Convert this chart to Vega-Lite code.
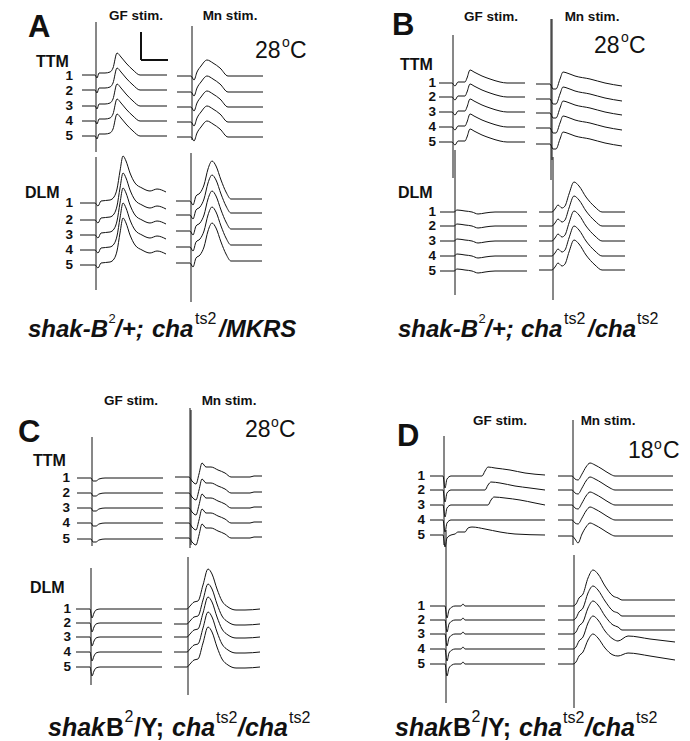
{
"$schema":"https://vega.github.io/schema/vega-lite/v6.json",
"width":690,"height":741,
"autosize":{"type":"fit","contains":"padding"},
"padding":0,
"background":"white",
"config":{"view":{"stroke":null}},
"datasets":{
"traces":[
{"g":"AGT","x":82,"t1":75,"t2":90,"t3":106,"t4":121,"t5":136},
{"g":"AGT","x":95,"t1":75,"t2":90,"t3":106,"t4":121,"t5":136},
{"g":"AGT","x":97,"t1":78,"t2":93,"t3":109,"t4":124,"t5":139},
{"g":"AGT","x":99,"t1":73,"t2":88,"t3":104,"t4":119,"t5":134},
{"g":"AGT","x":105,"t1":73,"t2":88,"t3":104,"t4":119,"t5":134},
{"g":"AGT","x":110,"t1":72,"t2":87,"t3":103,"t4":118,"t5":133},
{"g":"AGT","x":113,"t1":68,"t2":83,"t3":99,"t4":114,"t5":129},
{"g":"AGT","x":117,"t1":53,"t2":68,"t3":84,"t4":99,"t5":114},
{"g":"AGT","x":121,"t1":57,"t2":72,"t3":88,"t4":103,"t5":118},
{"g":"AGT","x":126,"t1":63,"t2":78,"t3":94,"t4":109,"t5":124},
{"g":"AGT","x":133,"t1":70,"t2":85,"t3":101,"t4":116,"t5":131},
{"g":"AGT","x":140,"t1":75,"t2":90,"t3":106,"t4":121,"t5":136},
{"g":"AGT","x":167,"t1":75,"t2":90,"t3":106,"t4":121,"t5":136},
{"g":"AMT","x":177,"t1":76,"t2":92,"t3":107,"t4":122,"t5":137},
{"g":"AMT","x":191,"t1":76,"t2":92,"t3":107,"t4":122,"t5":137},
{"g":"AMT","x":194,"t1":80,"t2":96,"t3":111,"t4":126,"t5":141},
{"g":"AMT","x":197,"t1":72,"t2":88,"t3":103,"t4":118,"t5":133},
{"g":"AMT","x":201,"t1":66,"t2":82,"t3":97,"t4":112,"t5":127},
{"g":"AMT","x":207,"t1":60,"t2":76,"t3":91,"t4":106,"t5":121},
{"g":"AMT","x":213,"t1":63,"t2":79,"t3":94,"t4":109,"t5":124},
{"g":"AMT","x":220,"t1":68,"t2":84,"t3":99,"t4":114,"t5":129},
{"g":"AMT","x":228,"t1":76,"t2":92,"t3":107,"t4":122,"t5":137},
{"g":"AMT","x":263,"t1":76,"t2":92,"t3":107,"t4":122,"t5":137},
{"g":"AGD","x":80,"t1":203,"t2":220,"t3":235,"t4":250,"t5":265},
{"g":"AGD","x":95,"t1":203,"t2":220,"t3":235,"t4":250,"t5":265},
{"g":"AGD","x":98,"t1":206,"t2":223,"t3":238,"t4":253,"t5":268},
{"g":"AGD","x":101,"t1":201,"t2":218,"t3":233,"t4":248,"t5":263},
{"g":"AGD","x":110,"t1":200,"t2":217,"t3":232,"t4":247,"t5":262},
{"g":"AGD","x":114,"t1":197,"t2":214,"t3":229,"t4":244,"t5":259},
{"g":"AGD","x":117,"t1":189,"t2":206,"t3":221,"t4":236,"t5":251},
{"g":"AGD","x":120,"t1":171,"t2":188,"t3":203,"t4":218,"t5":233},
{"g":"AGD","x":123,"t1":156,"t2":173,"t3":188,"t4":203,"t5":218},
{"g":"AGD","x":126,"t1":161,"t2":178,"t3":193,"t4":208,"t5":223},
{"g":"AGD","x":130,"t1":173,"t2":190,"t3":205,"t4":220,"t5":235},
{"g":"AGD","x":135,"t1":183,"t2":200,"t3":215,"t4":230,"t5":245},
{"g":"AGD","x":142,"t1":188,"t2":205,"t3":220,"t4":235,"t5":250},
{"g":"AGD","x":150,"t1":191,"t2":208,"t3":223,"t4":238,"t5":253},
{"g":"AGD","x":157,"t1":189,"t2":206,"t3":221,"t4":236,"t5":251},
{"g":"AGD","x":166,"t1":192,"t2":209,"t3":224,"t4":239,"t5":254},
{"g":"AMD","x":176,"t1":201,"t2":215,"t3":231,"t4":247,"t5":263},
{"g":"AMD","x":190,"t1":201,"t2":215,"t3":231,"t4":247,"t5":263},
{"g":"AMD","x":193,"t1":205,"t2":219,"t3":235,"t4":251,"t5":267},
{"g":"AMD","x":196,"t1":196,"t2":210,"t3":226,"t4":242,"t5":258},
{"g":"AMD","x":200,"t1":193,"t2":207,"t3":223,"t4":239,"t5":255},
{"g":"AMD","x":204,"t1":185,"t2":199,"t3":215,"t4":231,"t5":247},
{"g":"AMD","x":208,"t1":169,"t2":183,"t3":199,"t4":215,"t5":231},
{"g":"AMD","x":212,"t1":161,"t2":175,"t3":191,"t4":207,"t5":223},
{"g":"AMD","x":216,"t1":166,"t2":180,"t3":196,"t4":212,"t5":228},
{"g":"AMD","x":221,"t1":180,"t2":194,"t3":210,"t4":226,"t5":242},
{"g":"AMD","x":226,"t1":192,"t2":206,"t3":222,"t4":238,"t5":254},
{"g":"AMD","x":231,"t1":199,"t2":213,"t3":229,"t4":245,"t5":261},
{"g":"AMD","x":262,"t1":199,"t2":213,"t3":229,"t4":245,"t5":261},
{"g":"BGT","x":439,"t1":83,"t2":97,"t3":112,"t4":127,"t5":142},
{"g":"BGT","x":452,"t1":83,"t2":97,"t3":112,"t4":127,"t5":142},
{"g":"BGT","x":455,"t1":86,"t2":100,"t3":115,"t4":130,"t5":145},
{"g":"BGT","x":458,"t1":82,"t2":96,"t3":111,"t4":126,"t5":141},
{"g":"BGT","x":465,"t1":82,"t2":96,"t3":111,"t4":126,"t5":141},
{"g":"BGT","x":467,"t1":78,"t2":92,"t3":107,"t4":122,"t5":137},
{"g":"BGT","x":470,"t1":70,"t2":84,"t3":99,"t4":114,"t5":129},
{"g":"BGT","x":474,"t1":72,"t2":86,"t3":101,"t4":116,"t5":131},
{"g":"BGT","x":482,"t1":76,"t2":90,"t3":105,"t4":120,"t5":135},
{"g":"BGT","x":490,"t1":79,"t2":93,"t3":108,"t4":123,"t5":138},
{"g":"BGT","x":500,"t1":82,"t2":96,"t3":111,"t4":126,"t5":141},
{"g":"BGT","x":507,"t1":83,"t2":97,"t3":112,"t4":127,"t5":142},
{"g":"BGT","x":525,"t1":83,"t2":97,"t3":112,"t4":127,"t5":142},
{"g":"BMT","x":536,"t1":84,"t2":99,"t3":113,"t4":128,"t5":144},
{"g":"BMT","x":550,"t1":84,"t2":99,"t3":113,"t4":128,"t5":144},
{"g":"BMT","x":553,"t1":89,"t2":104,"t3":118,"t4":133,"t5":149},
{"g":"BMT","x":556,"t1":89,"t2":104,"t3":118,"t4":133,"t5":149},
{"g":"BMT","x":560,"t1":79,"t2":94,"t3":108,"t4":123,"t5":139},
{"g":"BMT","x":563,"t1":72,"t2":87,"t3":101,"t4":116,"t5":132},
{"g":"BMT","x":567,"t1":73,"t2":88,"t3":102,"t4":117,"t5":133},
{"g":"BMT","x":575,"t1":76,"t2":91,"t3":105,"t4":120,"t5":136},
{"g":"BMT","x":590,"t1":79,"t2":94,"t3":108,"t4":123,"t5":139},
{"g":"BMT","x":605,"t1":83,"t2":98,"t3":112,"t4":127,"t5":143},
{"g":"BMT","x":622,"t1":86,"t2":101,"t3":115,"t4":130,"t5":146},
{"g":"BGD","x":440,"t1":212,"t2":226,"t3":241,"t4":256,"t5":271},
{"g":"BGD","x":454,"t1":212,"t2":226,"t3":241,"t4":256,"t5":271},
{"g":"BGD","x":457,"t1":210,"t2":224,"t3":239,"t4":254,"t5":269},
{"g":"BGD","x":465,"t1":211,"t2":225,"t3":240,"t4":255,"t5":270},
{"g":"BGD","x":472,"t1":212,"t2":226,"t3":241,"t4":256,"t5":271},
{"g":"BGD","x":478,"t1":214,"t2":228,"t3":243,"t4":258,"t5":273},
{"g":"BGD","x":485,"t1":213,"t2":227,"t3":242,"t4":257,"t5":272},
{"g":"BGD","x":495,"t1":212,"t2":226,"t3":241,"t4":256,"t5":271},
{"g":"BGD","x":527,"t1":212,"t2":226,"t3":241,"t4":256,"t5":271},
{"g":"BMD","x":539,"t1":212,"t2":226,"t3":241,"t4":256,"t5":270},
{"g":"BMD","x":552,"t1":212,"t2":226,"t3":241,"t4":256,"t5":270},
{"g":"BMD","x":555,"t1":209,"t2":223,"t3":238,"t4":253,"t5":267},
{"g":"BMD","x":558,"t1":205,"t2":219,"t3":234,"t4":249,"t5":263},
{"g":"BMD","x":562,"t1":208,"t2":222,"t3":237,"t4":252,"t5":266},
{"g":"BMD","x":565,"t1":206,"t2":220,"t3":235,"t4":250,"t5":264},
{"g":"BMD","x":569,"t1":194,"t2":208,"t3":223,"t4":238,"t5":252},
{"g":"BMD","x":574,"t1":182,"t2":196,"t3":211,"t4":226,"t5":240},
{"g":"BMD","x":579,"t1":186,"t2":200,"t3":215,"t4":230,"t5":244},
{"g":"BMD","x":586,"t1":197,"t2":211,"t3":226,"t4":241,"t5":255},
{"g":"BMD","x":595,"t1":207,"t2":221,"t3":236,"t4":251,"t5":265},
{"g":"BMD","x":602,"t1":212,"t2":226,"t3":241,"t4":256,"t5":270},
{"g":"BMD","x":625,"t1":212,"t2":226,"t3":241,"t4":256,"t5":270},
{"g":"CGT","x":77,"t1":478,"t2":493,"t3":508,"t4":523,"t5":539},
{"g":"CGT","x":91,"t1":478,"t2":493,"t3":508,"t4":523,"t5":539},
{"g":"CGT","x":93,"t1":481,"t2":496,"t3":511,"t4":526,"t5":542},
{"g":"CGT","x":96,"t1":481,"t2":496,"t3":511,"t4":526,"t5":542},
{"g":"CGT","x":99,"t1":479,"t2":494,"t3":509,"t4":524,"t5":540},
{"g":"CGT","x":105,"t1":478,"t2":493,"t3":508,"t4":523,"t5":539},
{"g":"CGT","x":163,"t1":478,"t2":493,"t3":508,"t4":523,"t5":539},
{"g":"CMT","x":175,"t1":477,"t2":493,"t3":508,"t4":523,"t5":538},
{"g":"CMT","x":189,"t1":477,"t2":493,"t3":508,"t4":523,"t5":538},
{"g":"CMT","x":192,"t1":481,"t2":497,"t3":512,"t4":527,"t5":542},
{"g":"CMT","x":196,"t1":484,"t2":500,"t3":515,"t4":530,"t5":545},
{"g":"CMT","x":199,"t1":474,"t2":490,"t3":505,"t4":520,"t5":535},
{"g":"CMT","x":202,"t1":463,"t2":479,"t3":494,"t4":509,"t5":524},
{"g":"CMT","x":206,"t1":467,"t2":483,"t3":498,"t4":513,"t5":528},
{"g":"CMT","x":211,"t1":467,"t2":483,"t3":498,"t4":513,"t5":528},
{"g":"CMT","x":218,"t1":470,"t2":486,"t3":501,"t4":516,"t5":531},
{"g":"CMT","x":225,"t1":473,"t2":489,"t3":504,"t4":519,"t5":534},
{"g":"CMT","x":231,"t1":477,"t2":493,"t3":508,"t4":523,"t5":538},
{"g":"CMT","x":250,"t1":477,"t2":493,"t3":508,"t4":523,"t5":538},
{"g":"CMT","x":254,"t1":476,"t2":492,"t3":507,"t4":522,"t5":537},
{"g":"CMT","x":262,"t1":476,"t2":492,"t3":507,"t4":522,"t5":537},
{"g":"CGD","x":76,"t1":609,"t2":623,"t3":637,"t4":652,"t5":667},
{"g":"CGD","x":90,"t1":609,"t2":623,"t3":637,"t4":652,"t5":667},
{"g":"CGD","x":92,"t1":618,"t2":632,"t3":646,"t4":661,"t5":676},
{"g":"CGD","x":94,"t1":613,"t2":627,"t3":641,"t4":656,"t5":671},
{"g":"CGD","x":96,"t1":610,"t2":624,"t3":638,"t4":653,"t5":668},
{"g":"CGD","x":100,"t1":609,"t2":623,"t3":637,"t4":652,"t5":667},
{"g":"CGD","x":162,"t1":609,"t2":623,"t3":637,"t4":652,"t5":667},
{"g":"CMD","x":174,"t1":609,"t2":624,"t3":637,"t4":652,"t5":667},
{"g":"CMD","x":187,"t1":609,"t2":624,"t3":637,"t4":652,"t5":667},
{"g":"CMD","x":190,"t1":606,"t2":621,"t3":634,"t4":649,"t5":664},
{"g":"CMD","x":194,"t1":602,"t2":617,"t3":630,"t4":645,"t5":660},
{"g":"CMD","x":198,"t1":601,"t2":616,"t3":629,"t4":644,"t5":659},
{"g":"CMD","x":203,"t1":585,"t2":600,"t3":613,"t4":628,"t5":643},
{"g":"CMD","x":208,"t1":569,"t2":584,"t3":597,"t4":612,"t5":627},
{"g":"CMD","x":212,"t1":574,"t2":589,"t3":602,"t4":617,"t5":632},
{"g":"CMD","x":217,"t1":589,"t2":604,"t3":617,"t4":632,"t5":647},
{"g":"CMD","x":222,"t1":601,"t2":616,"t3":629,"t4":644,"t5":659},
{"g":"CMD","x":228,"t1":607,"t2":622,"t3":635,"t4":650,"t5":665},
{"g":"CMD","x":236,"t1":610,"t2":625,"t3":638,"t4":653,"t5":668},
{"g":"CMD","x":245,"t1":610,"t2":625,"t3":638,"t4":653,"t5":668},
{"g":"CMD","x":260,"t1":609,"t2":624,"t3":637,"t4":652,"t5":667},
{"g":"DGT","x":430,"t1":476,"t2":490,"t3":505,"t4":520,"t5":535},
{"g":"DGT","x":443,"t1":476,"t2":490,"t3":505,"t4":520,"t5":535},
{"g":"DGT","x":445,"t1":488,"t2":502,"t3":517,"t4":532,"t5":547},
{"g":"DGT","x":447,"t1":479,"t2":493,"t3":508,"t4":523,"t5":538},
{"g":"DGT","x":451,"t1":476,"t2":490,"t3":505,"t4":520,"t5":535},
{"g":"DGT","x":455,"t5":534},
{"g":"DGT","x":458,"t5":532},
{"g":"DGT","x":465,"t5":532},
{"g":"DGT","x":468,"t5":528},
{"g":"DGT","x":472,"t5":527},
{"g":"DGT","x":482,"t1":476,"t2":490,"t3":505},
{"g":"DGT","x":485,"t1":471,"t2":490,"t5":529},
{"g":"DGT","x":488,"t1":467,"t2":485,"t3":505},
{"g":"DGT","x":491,"t2":482,"t3":500},
{"g":"DGT","x":494,"t3":497},
{"g":"DGT","x":495,"t1":468},
{"g":"DGT","x":500,"t2":483,"t5":532},
{"g":"DGT","x":505,"t3":498},
{"g":"DGT","x":510,"t1":470},
{"g":"DGT","x":515,"t2":486,"t5":534},
{"g":"DGT","x":520,"t3":500},
{"g":"DGT","x":525,"t1":473},
{"g":"DGT","x":530,"t2":488},
{"g":"DGT","x":535,"t3":503},
{"g":"DGT","x":545,"t1":475,"t2":490,"t3":505,"t4":520,"t5":535},
{"g":"DMT","x":558,"t1":476,"t2":490,"t3":505,"t4":520,"t5":536},
{"g":"DMT","x":572,"t1":476,"t2":490,"t3":505,"t4":520,"t5":536},
{"g":"DMT","x":575,"t1":479,"t2":493,"t3":508,"t4":523,"t5":539},
{"g":"DMT","x":578,"t1":480,"t2":494,"t3":509,"t4":524,"t5":543},
{"g":"DMT","x":582,"t1":474,"t2":488,"t3":503,"t4":518,"t5":534},
{"g":"DMT","x":586,"t1":467,"t2":481,"t3":496,"t4":511,"t5":527},
{"g":"DMT","x":590,"t1":463,"t2":477,"t3":492,"t4":507,"t5":523},
{"g":"DMT","x":595,"t1":465,"t2":479,"t3":494,"t4":509,"t5":525},
{"g":"DMT","x":602,"t1":469,"t2":483,"t3":498,"t4":513,"t5":529},
{"g":"DMT","x":610,"t1":474,"t2":488,"t3":503,"t4":518,"t5":534},
{"g":"DMT","x":615,"t1":476,"t2":490,"t3":505,"t4":520,"t5":536},
{"g":"DMT","x":673,"t1":476,"t2":490,"t3":505,"t4":520,"t5":536},
{"g":"DGD","x":430,"t1":606,"t2":620,"t3":634,"t4":649,"t5":664},
{"g":"DGD","x":445,"t1":606,"t2":620,"t3":634,"t4":649,"t5":664},
{"g":"DGD","x":447,"t1":618,"t2":632,"t3":646,"t4":661,"t5":676},
{"g":"DGD","x":449,"t1":610,"t2":624,"t3":638,"t4":653,"t5":668},
{"g":"DGD","x":452,"t1":607,"t2":621,"t3":635,"t4":650,"t5":665},
{"g":"DGD","x":455,"t1":606,"t2":620,"t3":634,"t4":649,"t5":664},
{"g":"DGD","x":461,"t1":606,"t2":620,"t3":634,"t4":649,"t5":664},
{"g":"DGD","x":463,"t1":604,"t2":618,"t3":632,"t4":647,"t5":662},
{"g":"DGD","x":465,"t1":606,"t2":620,"t3":634,"t4":649,"t5":664},
{"g":"DGD","x":545,"t1":606,"t2":620,"t3":634,"t4":649,"t5":664},
{"g":"DMD","x":558,"t1":606,"t2":620,"t3":634,"t4":649,"t5":664},
{"g":"DMD","x":573,"t1":606,"t2":620,"t3":634,"t4":649,"t5":664},
{"g":"DMD","x":576,"t1":604,"t2":618,"t3":632,"t4":647,"t5":662},
{"g":"DMD","x":579,"t1":598,"t2":612,"t3":626,"t4":641,"t5":656},
{"g":"DMD","x":583,"t1":594,"t2":608,"t3":622,"t4":637,"t5":652},
{"g":"DMD","x":588,"t1":578,"t2":593,"t3":608,"t4":623,"t5":640},
{"g":"DMD","x":593,"t1":570,"t2":586,"t3":601,"t4":616,"t5":634},
{"g":"DMD","x":598,"t1":574,"t2":590,"t3":605,"t4":620,"t5":638},
{"g":"DMD","x":605,"t1":586,"t2":601,"t3":616,"t4":631,"t5":648},
{"g":"DMD","x":613,"t1":596,"t2":611,"t3":625,"t4":639,"t5":655},
{"g":"DMD","x":618,"t1":598,"t2":613,"t3":627,"t4":641,"t5":656},
{"g":"DMD","x":622,"t1":600,"t2":616,"t3":630},
{"g":"DMD","x":628,"t4":636,"t5":653},
{"g":"DMD","x":650,"t4":639,"t5":656},
{"g":"DMD","x":675,"t1":600,"t2":616,"t3":630,"t4":642,"t5":660}
],
"stims":[
{"x":96,"y":22,"y2":152},{"x":192,"y":26,"y2":140},{"x":96,"y":157,"y2":290},{"x":191,"y":153,"y2":302},
{"x":453,"y":35,"y2":178},{"x":551,"y":19,"y2":180},{"x":552,"y":19,"y2":160},{"x":455,"y":150,"y2":295},{"x":553,"y":157,"y2":300},
{"x":92,"y":437,"y2":546},{"x":190,"y":408,"y2":548},{"x":191,"y":410,"y2":545},{"x":91,"y":568,"y2":685},{"x":188,"y":557,"y2":695},
{"x":444,"y":436,"y2":545},{"x":446,"y":530,"y2":703},{"x":573,"y":420,"y2":545},{"x":574,"y":555,"y2":708}
],
"bar":[
{"x":141,"x2":141,"y":32,"y2":60},{"x":141,"x2":168,"y":60,"y2":60}
],
"labels":[
{"k":"panel","t":"A","x":28,"y":37},{"k":"panel","t":"B","x":392,"y":35},{"k":"panel","t":"C","x":18,"y":442},{"k":"panel","t":"D","x":397,"y":446},
{"k":"stim","t":"GF stim.","x":136,"y":20},{"k":"stim","t":"Mn stim.","x":230,"y":20},
{"k":"stim","t":"GF stim.","x":491,"y":21},{"k":"stim","t":"Mn stim.","x":592,"y":21},
{"k":"stim","t":"GF stim.","x":131,"y":405},{"k":"stim","t":"Mn stim.","x":229,"y":405},
{"k":"stim","t":"GF stim.","x":500,"y":425},{"k":"stim","t":"Mn stim.","x":608,"y":425},
{"k":"temp","t":"28","x":255,"y":58},{"k":"temp","t":"C","x":290,"y":58},
{"k":"temp","t":"28","x":594,"y":53},{"k":"temp","t":"C","x":629,"y":53},
{"k":"temp","t":"28","x":245,"y":437},{"k":"temp","t":"C","x":279,"y":437},
{"k":"temp","t":"18","x":628,"y":458},{"k":"temp","t":"C","x":663,"y":458},
{"k":"deg","t":"o","x":282,"y":47},{"k":"deg","t":"o","x":621,"y":42},{"k":"deg","t":"o","x":271,"y":427},{"k":"deg","t":"o","x":654,"y":449},
{"k":"muscle","t":"TTM","x":36,"y":67},{"k":"muscle","t":"DLM","x":25,"y":198},
{"k":"muscle","t":"TTM","x":400,"y":70},{"k":"muscle","t":"DLM","x":398,"y":198},
{"k":"muscle","t":"TTM","x":33,"y":466},{"k":"muscle","t":"DLM","x":30,"y":593},
{"k":"num","t":"1","x":73,"y":76},{"k":"num","t":"2","x":73,"y":91},{"k":"num","t":"3","x":73,"y":106},{"k":"num","t":"4","x":73,"y":121},{"k":"num","t":"5","x":73,"y":136},
{"k":"num","t":"1","x":73,"y":203},{"k":"num","t":"2","x":73,"y":220},{"k":"num","t":"3","x":73,"y":235},{"k":"num","t":"4","x":73,"y":250},{"k":"num","t":"5","x":73,"y":265},
{"k":"num","t":"1","x":436,"y":83},{"k":"num","t":"2","x":436,"y":97},{"k":"num","t":"3","x":436,"y":112},{"k":"num","t":"4","x":436,"y":127},{"k":"num","t":"5","x":436,"y":142},
{"k":"num","t":"1","x":436,"y":212},{"k":"num","t":"2","x":436,"y":226},{"k":"num","t":"3","x":436,"y":241},{"k":"num","t":"4","x":436,"y":256},{"k":"num","t":"5","x":436,"y":271},
{"k":"num","t":"1","x":70,"y":478},{"k":"num","t":"2","x":70,"y":493},{"k":"num","t":"3","x":70,"y":508},{"k":"num","t":"4","x":70,"y":523},{"k":"num","t":"5","x":70,"y":539},
{"k":"num","t":"1","x":71,"y":609},{"k":"num","t":"2","x":71,"y":623},{"k":"num","t":"3","x":71,"y":637},{"k":"num","t":"4","x":71,"y":652},{"k":"num","t":"5","x":71,"y":667},
{"k":"num","t":"1","x":425,"y":476},{"k":"num","t":"2","x":425,"y":490},{"k":"num","t":"3","x":425,"y":505},{"k":"num","t":"4","x":425,"y":520},{"k":"num","t":"5","x":425,"y":535},
{"k":"num","t":"1","x":425,"y":606},{"k":"num","t":"2","x":425,"y":620},{"k":"num","t":"3","x":425,"y":634},{"k":"num","t":"4","x":425,"y":649},{"k":"num","t":"5","x":425,"y":664},
{"k":"capAB","t":"shak-B","x":28,"y":337},{"k":"capAB","t":"/+;","x":115,"y":337},{"k":"capAB","t":"cha","x":152,"y":337},{"k":"capAB","t":"/MKRS","x":219,"y":337},
{"k":"capAB","t":"shak-B","x":398,"y":337},{"k":"capAB","t":"/+;","x":485,"y":337},{"k":"capAB","t":"cha","x":521,"y":337},{"k":"capAB","t":"/cha","x":588,"y":337},
{"k":"supS","t":"2","x":108.5,"y":323},{"k":"sup","t":"ts2","x":195,"y":324},
{"k":"supS","t":"2","x":478.5,"y":323},{"k":"sup","t":"ts2","x":564,"y":324},{"k":"sup","t":"ts2","x":637,"y":324},
{"k":"capCD","t":"shak","x":48,"y":736},{"k":"capCDu","t":"B","x":106,"y":736},{"k":"capCDu","t":"/Y;","x":134,"y":736},{"k":"capCD","t":"cha","x":172,"y":736},{"k":"capCD","t":"/cha","x":238,"y":736},
{"k":"sup","t":"2","x":124.5,"y":722},{"k":"sup","t":"ts2","x":216,"y":723},{"k":"sup","t":"ts2","x":289,"y":723},
{"k":"capCD","t":"shak","x":395,"y":736},{"k":"capCDu","t":"B","x":453,"y":736},{"k":"capCDu","t":"/Y;","x":481,"y":736},{"k":"capCD","t":"cha","x":519,"y":736},{"k":"capCD","t":"/cha","x":585,"y":736},
{"k":"sup","t":"2","x":471.5,"y":722},{"k":"sup","t":"ts2","x":563,"y":723},{"k":"sup","t":"ts2","x":636,"y":723}
]
},
"layer":[
{"data":{"name":"traces"},
 "transform":[{"fold":["t1","t2","t3","t4","t5"],"as":["trace","v"]},{"filter":"isValid(datum.v)"}],
 "mark":{"type":"line","interpolate":"monotone","color":"#111","strokeWidth":1},
 "encoding":{
  "x":{"field":"x","type":"quantitative","scale":{"domain":[0,690],"nice":false,"zero":false},"axis":null},
  "y":{"field":"v","type":"quantitative","scale":{"domain":[0,741],"reverse":true,"nice":false,"zero":false},"axis":null},
  "detail":[{"field":"g"},{"field":"trace"}]}},
{"data":{"name":"stims"},
 "mark":{"type":"rule","color":"#111","strokeWidth":1},
 "encoding":{
  "x":{"field":"x","type":"quantitative","scale":{"domain":[0,690],"nice":false,"zero":false},"axis":null},
  "y":{"field":"y","type":"quantitative","scale":{"domain":[0,741],"reverse":true,"nice":false,"zero":false},"axis":null},
  "y2":{"field":"y2"}}},
{"data":{"name":"bar"},
 "mark":{"type":"rule","color":"#111","strokeWidth":2},
 "encoding":{
  "x":{"field":"x","type":"quantitative","axis":null},"x2":{"field":"x2"},
  "y":{"field":"y","type":"quantitative","axis":null},"y2":{"field":"y2"}}},
{"data":{"name":"labels"},"transform":[{"filter":"datum.k=='panel'"}],
 "mark":{"type":"text","font":"Liberation Sans","fontSize":31,"fontWeight":"bold","align":"left","baseline":"alphabetic","color":"#111"},
 "encoding":{"x":{"field":"x","type":"quantitative","axis":null},"y":{"field":"y","type":"quantitative","axis":null},"text":{"field":"t"}}},
{"data":{"name":"labels"},"transform":[{"filter":"datum.k=='stim'"}],
 "mark":{"type":"text","font":"Liberation Sans","fontSize":13.5,"fontWeight":"bold","align":"center","baseline":"alphabetic","color":"#111"},
 "encoding":{"x":{"field":"x","type":"quantitative","axis":null},"y":{"field":"y","type":"quantitative","axis":null},"text":{"field":"t"}}},
{"data":{"name":"labels"},"transform":[{"filter":"datum.k=='temp'"}],
 "mark":{"type":"text","font":"Liberation Sans","fontSize":23,"align":"left","baseline":"alphabetic","color":"#111"},
 "encoding":{"x":{"field":"x","type":"quantitative","axis":null},"y":{"field":"y","type":"quantitative","axis":null},"text":{"field":"t"}}},
{"data":{"name":"labels"},"transform":[{"filter":"datum.k=='deg'"}],
 "mark":{"type":"text","font":"Liberation Sans","fontSize":14,"align":"left","baseline":"alphabetic","color":"#111"},
 "encoding":{"x":{"field":"x","type":"quantitative","axis":null},"y":{"field":"y","type":"quantitative","axis":null},"text":{"field":"t"}}},
{"data":{"name":"labels"},"transform":[{"filter":"datum.k=='muscle'"}],
 "mark":{"type":"text","font":"Liberation Sans","fontSize":16,"fontWeight":"bold","align":"left","baseline":"alphabetic","color":"#111"},
 "encoding":{"x":{"field":"x","type":"quantitative","axis":null},"y":{"field":"y","type":"quantitative","axis":null},"text":{"field":"t"}}},
{"data":{"name":"labels"},"transform":[{"filter":"datum.k=='num'"}],
 "mark":{"type":"text","font":"Liberation Sans","fontSize":13.5,"fontWeight":"bold","align":"right","baseline":"middle","color":"#111"},
 "encoding":{"x":{"field":"x","type":"quantitative","axis":null},"y":{"field":"y","type":"quantitative","axis":null},"text":{"field":"t"}}},
{"data":{"name":"labels"},"transform":[{"filter":"datum.k=='capAB'"}],
 "mark":{"type":"text","font":"Liberation Sans","fontSize":24,"fontWeight":"bold","fontStyle":"italic","align":"left","baseline":"alphabetic","color":"#111"},
 "encoding":{"x":{"field":"x","type":"quantitative","axis":null},"y":{"field":"y","type":"quantitative","axis":null},"text":{"field":"t"}}},
{"data":{"name":"labels"},"transform":[{"filter":"datum.k=='capCD'"}],
 "mark":{"type":"text","font":"Liberation Sans","fontSize":25,"fontWeight":"bold","fontStyle":"italic","align":"left","baseline":"alphabetic","color":"#111"},
 "encoding":{"x":{"field":"x","type":"quantitative","axis":null},"y":{"field":"y","type":"quantitative","axis":null},"text":{"field":"t"}}},
{"data":{"name":"labels"},"transform":[{"filter":"datum.k=='capCDu'"}],
 "mark":{"type":"text","font":"Liberation Sans","fontSize":25,"fontWeight":"bold","align":"left","baseline":"alphabetic","color":"#111"},
 "encoding":{"x":{"field":"x","type":"quantitative","axis":null},"y":{"field":"y","type":"quantitative","axis":null},"text":{"field":"t"}}},
{"data":{"name":"labels"},"transform":[{"filter":"datum.k=='sup'"}],
 "mark":{"type":"text","font":"Liberation Sans","fontSize":16,"align":"left","baseline":"alphabetic","color":"#111"},
 "encoding":{"x":{"field":"x","type":"quantitative","axis":null},"y":{"field":"y","type":"quantitative","axis":null},"text":{"field":"t"}}},
{"data":{"name":"labels"},"transform":[{"filter":"datum.k=='supS'"}],
 "mark":{"type":"text","font":"Liberation Sans","fontSize":13,"align":"left","baseline":"alphabetic","color":"#111"},
 "encoding":{"x":{"field":"x","type":"quantitative","axis":null},"y":{"field":"y","type":"quantitative","axis":null},"text":{"field":"t"}}}
]
}
